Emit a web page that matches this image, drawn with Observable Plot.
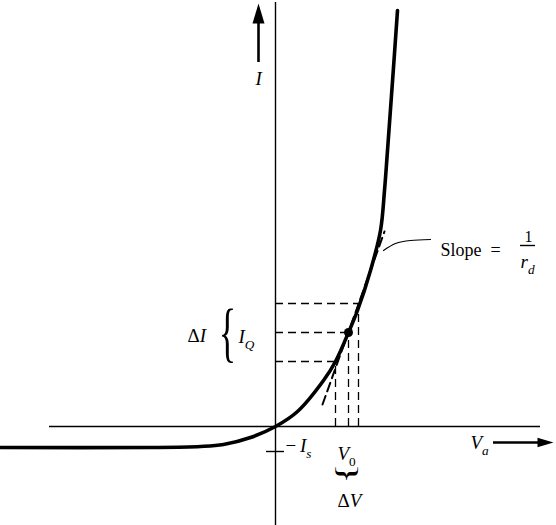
<!DOCTYPE html>
<html>
<head>
<meta charset="utf-8">
<script src="https://cdn.jsdelivr.net/npm/d3@7"></script>
<script src="https://cdn.jsdelivr.net/npm/@observablehq/plot@0.6"></script>
<style>
  html, body { margin: 0; padding: 0; background: #fff; }
  svg { display: block; }
</style>
</head>
<body>
<div id="chart"></div>
<script>
// Diode I–V characteristic (arbitrary units)
const curveV = [-2.75, -1.25, -0.75, -0.52, -0.25, 0, 0.22, 0.48, 0.60, 0.73, 0.82, 0.95, 1.05, 1.09, 1.12, 1.18, 1.22];
const curveI = [-0.21, -0.21, -0.20, -0.18, -0.11, 0, 0.15, 0.46, 0.65, 0.94, 1.16, 1.56, 1.96, 2.36, 2.76, 3.59, 4.16];

// operating point and the ΔV / ΔI construction
const qV = 0.73, qI = 0.94;
const dashV = [0.60, 0.73, 0.83];
const dashI = [0.65, 0.94, 1.23];
const tangentV = [0.47, 1.09];
const tangentI = [0.22, 1.95];
const leaderV = [1.08, 1.20, 1.35, 1.55];
const leaderI = [1.76, 1.83, 1.86, 1.87];
const minusIs = -0.25;
const fractionBar = [{i: 1.81, v1: 2.45, v2: 2.60}];

const curve = curveV.map((v, i) => ({v, i: curveI[i]}));
const dashes = dashV.map((v, k) => ({v, i: dashI[k]}));
const tangent = tangentV.map((v, k) => ({v, i: tangentI[k]}));
const leader = leaderV.map((v, k) => ({v, i: leaderI[k]}));

// math labels ("_" marks a subscript), anchored at their left edge
const mathLabels = [
  {t: "I", v: -0.20, i: 3.48},
  {t: "ΔI", v: -0.88, i: 0.91},
  {t: "I_Q", v: -0.37, i: 0.90},
  {t: "−\u2009I_s", v: 0.10, i: -0.19},
  {t: "V_0", v: 0.62, i: -0.27},
  {t: "ΔV", v: 0.62, i: -0.74},
  {t: "V_a", v: 1.95, i: -0.16},
  {t: "r_d", v: 2.45, i: 1.65}
];
const numerator = [{t: "1", v: 2.53, i: 1.90}];
const slopeText = [{t: "Slope\u00a0\u00a0=", v: 1.65, i: 1.76}];
const braceLeft = [{t: "{", v: -0.48, i: 0.94}];
const braceDown = [{t: "}", v: 0.72, i: -0.47}];

const arrowHead = {
  draw(context, size) {
    const r = Math.sqrt(size / Math.PI);
    context.moveTo(0, -r);
    context.lineTo(0.6 * r, r);
    context.lineTo(-0.6 * r, r);
    context.closePath();
  }
};

const serif = "'Liberation Serif', 'Times New Roman', serif";

const chart = Plot.plot({
  width: 556,
  height: 525,
  margin: 0,
  style: {background: "#fff", color: "#000", fontFamily: serif},
  x: {domain: [-2.75, 2.81], axis: null},
  y: {domain: [-0.99, 4.26], axis: null},
  marks: [
    // axes
    Plot.ruleY([0], {x1: -2.26, x2: 2.65, stroke: "#000", strokeWidth: 1.4}),
    Plot.ruleX([0], {y1: -0.99, y2: 4.24, stroke: "#000", strokeWidth: 1.4}),
    // −Is tick
    Plot.ruleY([minusIs], {x1: -0.09, x2: 0.09, stroke: "#000", strokeWidth: 1.4}),
    // dashed construction
    Plot.ruleY(dashes, {y: "i", x1: 0, x2: "v", stroke: "#000", strokeWidth: 1.3, strokeDasharray: "8,5"}),
    Plot.ruleX(dashes, {x: "v", y1: 0, y2: "i", stroke: "#000", strokeWidth: 1.3, strokeDasharray: "8,5"}),
    Plot.line(tangent, {x: "v", y: "i", stroke: "#000", strokeWidth: 2, strokeDasharray: "9,5"}),
    // the characteristic
    Plot.line(curve, {x: "v", y: "i", curve: "catmull-rom", stroke: "#000", strokeWidth: 3.6}),
    Plot.dot([{v: qV, i: qI}], {x: "v", y: "i", r: 4.5, fill: "#000"}),
    // slope leader and fraction bar
    Plot.line(leader, {x: "v", y: "i", curve: "natural", stroke: "#000", strokeWidth: 1.2}),
    Plot.ruleY(fractionBar, {y: "i", x1: "v1", x2: "v2", stroke: "#000", strokeWidth: 1.4}),
    // I arrow (up)
    Plot.ruleX([-0.17], {y1: 3.64, y2: 4.10, stroke: "#000", strokeWidth: 2.6}),
    Plot.dot([{v: -0.17, i: 4.13}], {x: "v", y: "i", r: 10, symbol: arrowHead, fill: "#000", stroke: "none"}),
    // Va arrow (right)
    Plot.ruleY([-0.16], {x1: 2.18, x2: 2.65, stroke: "#000", strokeWidth: 2.6}),
    Plot.dot([{v: 2.70, i: -0.16}], {x: "v", y: "i", r: 8, symbol: arrowHead, rotate: 90, fill: "#000", stroke: "none"}),
    // braces
    Plot.text(braceLeft, {x: "v", y: "i", text: "t", fontFamily: serif, fontSize: 66}),
    Plot.text(braceDown, {x: "v", y: "i", text: "t", rotate: 90, fontFamily: serif, fontSize: 27}),
    // labels
    Plot.text(mathLabels, {x: "v", y: "i", text: "t", fontFamily: serif, fontSize: 19, textAnchor: "start"}),
    Plot.text(numerator, {x: "v", y: "i", text: "t", fontFamily: serif, fontSize: 16}),
    Plot.text(slopeText, {x: "v", y: "i", text: "t", fontFamily: serif, fontSize: 18, textAnchor: "start"})
  ]
});
document.getElementById("chart").appendChild(chart);

// typeset the math labels: italic letters, upright symbols, lowered subscripts
const mathSet = new Set(mathLabels.map(d => d.t));
d3.select(chart).selectAll("text").each(function() {
  const s = this.textContent;
  if (mathSet.has(s)) {
    const el = d3.select(this);
    el.text(null);
    for (let k = 0; k < s.length; k++) {
      const ch = s[k];
      if (ch === "_") {
        const sub = s[k + 1];
        el.append("tspan")
          .attr("font-size", "0.7em")
          .attr("dy", "0.45em")
          .attr("font-style", /[0-9]/.test(sub) ? "normal" : "italic")
          .text(sub);
        k++;
      } else {
        el.append("tspan")
          .attr("font-style", /[A-Za-z]/.test(ch) ? "italic" : "normal")
          .text(ch);
      }
    }
  } else if (s === "{" || s === "}") {
    // make the braces tall and thin like the drawn ones
    const b = this.getBBox();
    const cx = b.x + b.width / 2, cy = b.y + b.height / 2;
    const sx = s === "{" ? 0.55 : 1.6;
    const prev = this.getAttribute("transform") || "";
    this.setAttribute("transform", `${prev} translate(${cx},${cy}) scale(${sx},1) translate(${-cx},${-cy})`);
  }
});
</script>
</body>
</html>
